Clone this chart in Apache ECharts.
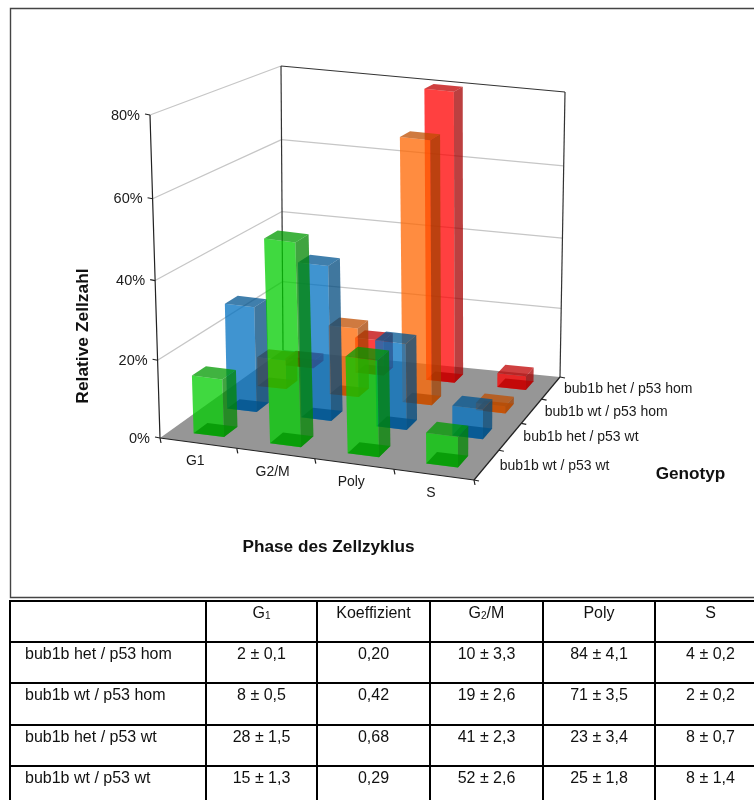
<!DOCTYPE html>
<html>
<head>
<meta charset="utf-8">
<style>html,body{margin:0;padding:0;background:#fff}#chart{width:754px;height:800px}</style>
<script src="https://cdn.jsdelivr.net/npm/echarts@6/dist/echarts.min.js"></script>
</head>
<body>
<div id="chart"></div>
<script>
// Cell-cycle phases along the front edge, genotypes along the depth edge
const phases = ['G1', 'G2/M', 'Poly', 'S'];
const genotypes = ['bub1b wt / p53 wt', 'bub1b het / p53 wt', 'bub1b wt / p53 hom', 'bub1b het / p53 hom'];

// Relative cell counts in percent, one list per genotype (front row first)
const wtWt = [15, 52, 25, 8];
const hetWt = [28, 41, 23, 8];
const wtHom = [8, 19, 71, 2];
const hetHom = [2, 10, 84, 4];
const rows = [wtWt, hetWt, wtHom, hetHom];

const rowColors = [[0, 204, 0], [0, 112, 192], [255, 102, 0], [255, 0, 0]];
const percentTicks = [0, 20, 40, 60, 80];
const axisMax = 80;

// Table below the chart
const tableHeader = ['', 'G1', 'Koeffizient', 'G2/M', 'Poly', 'S'];
const tableRow1 = ['bub1b het / p53 hom', '2 ± 0,1', '0,20', '10 ± 3,3', '84 ± 4,1', '4 ± 0,2'];
const tableRow2 = ['bub1b wt / p53 hom', '8 ± 0,5', '0,42', '19 ± 2,6', '71 ± 3,5', '2 ± 0,2'];
const tableRow3 = ['bub1b het / p53 wt', '28 ± 1,5', '0,68', '41 ± 2,3', '23 ± 3,4', '8 ± 0,7'];
const tableRow4 = ['bub1b wt / p53 wt', '15 ± 1,3', '0,29', '52 ± 2,6', '25 ± 1,8', '8 ± 1,4'];

const FONT = '"Liberation Sans", Arial, sans-serif';

// Unit square -> quadrilateral homography (p00, p10, p11, p01)
function quadMap(a, b, c, d) {
  const dx1 = b[0] - c[0], dx2 = d[0] - c[0], sx = a[0] - b[0] + c[0] - d[0];
  const dy1 = b[1] - c[1], dy2 = d[1] - c[1], sy = a[1] - b[1] + c[1] - d[1];
  const den = dx1 * dy2 - dx2 * dy1;
  const g = (sx * dy2 - dx2 * sy) / den, h = (dx1 * sy - sx * dy1) / den;
  const A = b[0] - a[0] + g * b[0], B = d[0] - a[0] + h * d[0];
  const D = b[1] - a[1] + g * b[1], E = d[1] - a[1] + h * d[1];
  return (u, v) => {
    const q = g * u + h * v + 1;
    return [(A * u + B * v + a[0]) / q, (D * u + E * v + a[1]) / q];
  };
}
// Corners of the 3D box on screen: floor plane and the 80 % plane
const floorMap = quadMap([160, 438], [474, 480], [560, 377], [283, 350]);
const topMap = quadMap([150, 115], [476, 156], [565, 92], [281, 66]);
// Small bend along each box axis to soften the foreshortening
const bend = (t, k) => t + k * t * (1 - t);
function project(u, v, w) {
  const uu = bend(u, 0.08), vv = bend(v, 0.03), ww = bend(w, -0.05);
  const f = floorMap(uu, vv), t = topMap(uu, vv);
  return [f[0] + (t[0] - f[0]) * ww, f[1] + (t[1] - f[1]) * ww];
}

// The hidden grid supplies the category and percent scales; its position
// is normalised back to box coordinates before projecting.
const G = { left: 0, top: 0, width: 400, height: 400 };
function boxCoord(api, cat, val) {
  const p = api.coord([cat, val]);
  return [(p[0] - G.left) / G.width, (G.top + G.height - p[1]) / G.height];
}
const rgba = (c, k, a) => `rgba(${Math.round(c[0] * k)},${Math.round(c[1] * k)},${Math.round(c[2] * k)},${a})`;
const poly = (points, fill) => ({ type: 'polygon', shape: { points }, style: { fill, stroke: null } });
const seg = (a, b, stroke, lineWidth) => ({
  type: 'line', shape: { x1: a[0], y1: a[1], x2: b[0], y2: b[1] }, style: { stroke, lineWidth, fill: null }
});
const label = (text, x, y, align, font) => ({
  type: 'text',
  style: { text, x, y, fill: '#1a1a1a', font: font || `14.5px ${FONT}`, textAlign: align, textVerticalAlign: 'middle' }
});

// Walls, floor, axis lines, ticks and their labels
function renderFrame(params, api) {
  const ch = [];
  ch.push(poly([project(0, 0, 0), project(1, 0, 0), project(1, 1, 0), project(0, 1, 0)], '#969696'));
  percentTicks.forEach(t => {
    const w = boxCoord(api, 0, t)[1];
    if (t > 0) {
      ch.push(seg(project(0, 0, w), project(0, 1, w), '#c6c6c6', 1.3));
      ch.push(seg(project(0, 1, w), project(1, 1, w), t === axisMax ? '#333' : '#c6c6c6', t === axisMax ? 1.2 : 1.3));
    }
    const a = project(0, 0, w);
    ch.push(seg(a, [a[0] - 5, a[1] - 1], '#222', 1.2));
    ch.push(label(t + '%', a[0] - 10, a[1] + 0.5, 'right'));
  });
  ch.push(seg(project(0, 1, 0), project(0, 1, 1), '#333', 1.2));
  ch.push(seg(project(1, 1, 0), project(1, 1, 1), '#333', 1.2));
  ch.push(seg(project(0, 0, 0), project(0, 0, 1), '#222', 1.2));
  ch.push(seg(project(0, 0, 0), project(1, 0, 0), '#222', 1.2));
  ch.push(seg(project(1, 0, 0), project(1, 1, 0), '#222', 1.2));
  for (let i = 0; i <= phases.length; i++) {
    const a = project(i / phases.length, 0, 0);
    ch.push(seg(a, [a[0] + 1, a[1] + 5], '#222', 1.2));
  }
  for (let i = 0; i <= genotypes.length; i++) {
    const a = project(1, i / genotypes.length, 0);
    ch.push(seg(a, [a[0] + 5, a[1] + 1], '#222', 1.2));
  }
  phases.forEach((name, i) => {
    const a = project((i + 0.5) / phases.length, 0, 0);
    ch.push(label(name, a[0] - 3, a[1] + 18.5, 'center', `14px ${FONT}`));
  });
  genotypes.forEach((name, i) => {
    const a = project(1, (i + 0.5) / genotypes.length, 0);
    ch.push(label(name, a[0] + 13, a[1] + 1, 'left', `14px ${FONT}`));
  });
  return { type: 'group', children: ch };
}

// One translucent box per phase for a genotype row; heights stop at the axis maximum
function renderBars(row) {
  return (params, api) => {
    const cat = api.value(0), val = Math.min(api.value(1), axisMax);
    const c = rowColors[row];
    const b0 = boxCoord(api, cat, 0);
    const top = boxCoord(api, cat, val)[1];
    const bw = api.size([1, 0])[0] / G.width;
    const u0 = b0[0] - bw * 0.2, u1 = b0[0] + bw * 0.2;
    const dv = 1 / genotypes.length;
    const v0 = (row + 0.5) * dv - dv * 0.2, v1 = (row + 0.5) * dv + dv * 0.2;
    const a = 0.75;
    return {
      type: 'group',
      children: [
        poly([project(u0, v0, 0), project(u1, v0, 0), project(u1, v0, top), project(u0, v0, top)], rgba(c, 1, a)),
        poly([project(u1, v0, 0), project(u1, v1, 0), project(u1, v1, top), project(u1, v0, top)], rgba(c, 0.65, a)),
        poly([project(u0, v0, top), project(u1, v0, top), project(u1, v1, top), project(u0, v1, top)], rgba(c, 0.75, a)),
        poly([project(u0, v0, 0), project(u1, v0, 0), project(u1, v1, 0), project(u0, v1, 0)], rgba(c, 0.72, a))
      ]
    };
  };
}

// Table drawn as lines and text
const colX = [10, 206, 317, 430, 543, 655, 766];
const rowY = [601, 642, 683, 725, 766, 808];
const tableRows = [tableHeader, tableRow1, tableRow2, tableRow3, tableRow4];
const graphics = [];
graphics.push({ type: 'rect', shape: { x: 10.5, y: 8.5, width: 760, height: 589 }, style: { fill: null, stroke: '#444', lineWidth: 1.4 }, silent: true });
rowY.forEach(y => graphics.push({ type: 'line', shape: { x1: colX[0], y1: y, x2: 754, y2: y }, style: { stroke: '#000', lineWidth: 2 } }));
colX.forEach(x => graphics.push({ type: 'line', shape: { x1: x, y1: 600, x2: x, y2: 800 }, style: { stroke: '#000', lineWidth: 2 } }));
tableRows.forEach((r, ri) => {
  const y = rowY[ri] + 12.5;
  r.forEach((cell, ci) => {
    if (!cell) return;
    const sub = cell.match(/^G(\d)(.*)$/);
    const cx = (colX[ci] + colX[ci + 1]) / 2;
    graphics.push({
      type: 'text',
      style: {
        x: ci === 0 ? 25 : cx, y,
        text: sub ? `{m|G}{s|${sub[1]}}{m|${sub[2]}}` : cell,
        rich: { m: { font: `16px ${FONT}`, fill: '#111' }, s: { font: `10px ${FONT}`, fill: '#111', verticalAlign: 'bottom' } },
        font: `16px ${FONT}`, fill: '#111',
        textAlign: ci === 0 ? 'left' : 'center', textVerticalAlign: 'middle'
      }
    });
  });
});
const axisTitle = (text, x, y, rotation, size) => ({
  type: 'text', x, y, rotation,
  style: { text, x: 0, y: 0, font: `bold ${size}px ${FONT}`, fill: '#111', textAlign: 'center', textVerticalAlign: 'middle' }
});
graphics.push(axisTitle('Relative Zellzahl', 83, 336, Math.PI / 2, 17.4));
graphics.push(axisTitle('Phase des Zellzyklus', 328.5, 547, 0, 17.2));
graphics.push(axisTitle('Genotyp', 690.5, 474, 0, 17.2));

const series = [{
  type: 'custom', coordinateSystem: 'cartesian2d', clip: false,
  renderItem: renderFrame, data: [[0, 0]], silent: true, z: 1
}];
// Back rows are painted first so that nearer boxes overlay them
[3, 2, 1, 0].forEach((row, order) => {
  series.push({
    type: 'custom', name: genotypes[row], coordinateSystem: 'cartesian2d', clip: false,
    renderItem: renderBars(row), z: 2 + order, silent: true,
    data: rows[row].map((v, i) => [i, v])
  });
});

const chart = echarts.init(document.getElementById('chart'), null, { renderer: 'canvas' });
chart.setOption({
  animation: false,
  backgroundColor: '#fff',
  grid: { left: G.left, top: G.top, width: G.width, height: G.height },
  xAxis: { type: 'category', data: phases, show: false, boundaryGap: true },
  yAxis: { type: 'value', min: 0, max: axisMax, interval: 20, show: false },
  series,
  graphic: { elements: graphics }
});
</script>
</body>
</html>
